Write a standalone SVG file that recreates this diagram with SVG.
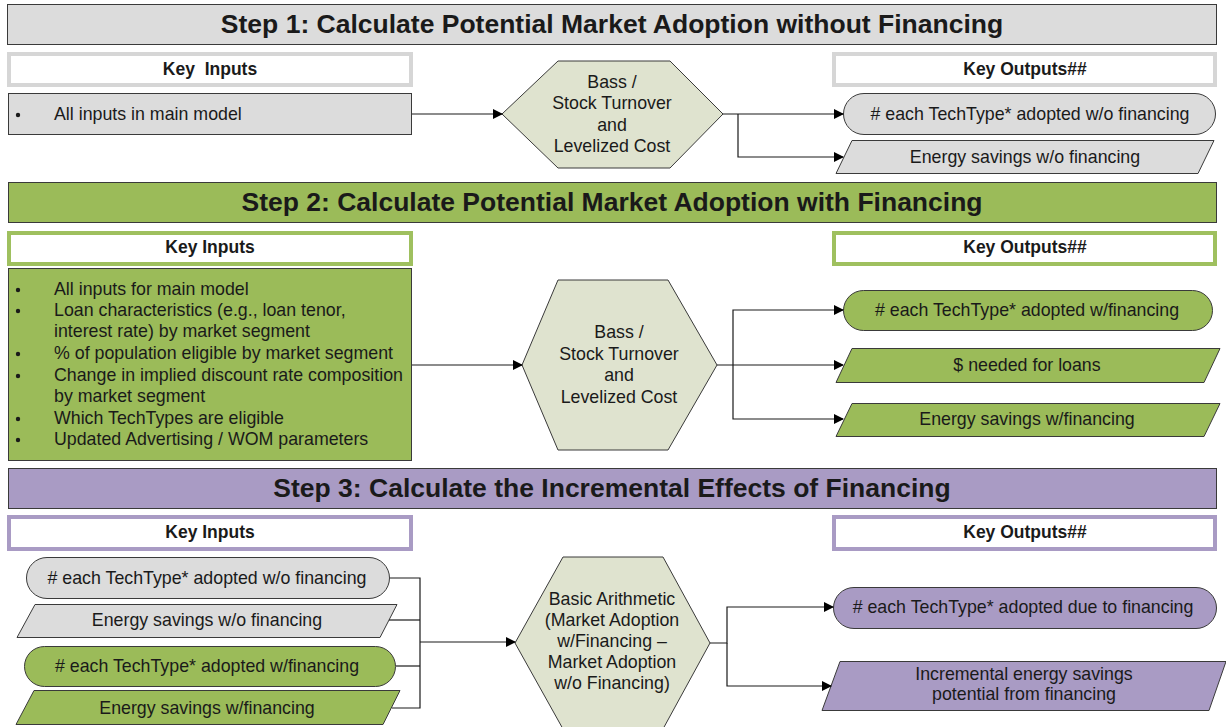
<svg xmlns="http://www.w3.org/2000/svg" width="1226" height="727" viewBox="0 0 1226 727">
<defs>
<marker id="arr" markerWidth="10" markerHeight="10" refX="9" refY="5" orient="auto" markerUnits="userSpaceOnUse">
<path d="M0,0 L10,5 L0,10 Z" fill="#000"/>
</marker>
<style>
text{font-family:"Liberation Sans",Arial,sans-serif;fill:#1a1a1a}
.hdr{font-size:26.5px;font-weight:bold;text-anchor:middle}
.key{font-size:17.5px;font-weight:bold;text-anchor:middle}
.t{font-size:17.8px}
.c{font-size:17.8px;text-anchor:middle}
.gray{fill:#dcdcdc}
.green{fill:#9bbb59}
.purple{fill:#a99bc4}
.box{stroke:#3a3a3a;stroke-width:1}
.hex{fill:#dfe3cf;stroke:#3a3a3a;stroke-width:1}
.keybox{fill:#fff;stroke-width:4}
.conn{fill:none;stroke:#1a1a1a;stroke-width:1.2}
</style>
</defs>
<rect width="1226" height="727" fill="#fff"/>

<!-- Step 1 -->
<g id="step1-header"><rect class="gray box" x="7.5" y="4.5" width="1209" height="40"/><text class="hdr" x="612" y="33">Step 1: Calculate Potential Market Adoption without Financing</text></g>
<g id="step1-keyinputs"><rect class="keybox" x="9" y="54" width="402" height="31" stroke="#d6d6d6"/><text class="key" x="210" y="75">Key&#160; Inputs</text></g>
<g id="step1-inputs"><rect class="gray box" x="8.5" y="93.5" width="403" height="41"/><circle cx="18" cy="115" r="2.2" fill="#1a1a1a"/><text class="t" x="54" y="120">All inputs in main model</text></g>
<g id="step1-hex"><polygon class="hex" points="502,114 558,61 670,61 723,114 670,168 558,168"/>
<text class="c" x="612" y="88">Bass /</text><text class="c" x="612" y="109">Stock Turnover</text><text class="c" x="612" y="131">and</text><text class="c" x="612" y="152">Levelized Cost</text></g>
<g id="step1-keyoutputs"><rect class="keybox" x="834" y="54" width="381" height="31" stroke="#d6d6d6"/><text class="key" x="1025" y="75">Key Outputs##</text></g>
<g id="step1-out1"><rect class="gray box" x="843.5" y="93.5" width="372" height="41" rx="20.5"/><text class="c" x="1030" y="120"># each TechType* adopted w/o financing</text></g>
<g id="step1-out2"><polygon class="gray box" points="852,140.5 1214,140.5 1198,173.5 836,173.5"/><text class="c" x="1025" y="163">Energy savings w/o financing</text></g>

<!-- Step 2 -->
<g id="step2-header"><rect class="green box" x="8.5" y="182.5" width="1208" height="40"/><text class="hdr" x="612" y="211">Step 2: Calculate Potential Market Adoption with Financing</text></g>
<g id="step2-keyinputs"><rect class="keybox" x="9" y="233" width="402" height="31" stroke="#9fc05f"/><text class="key" x="210" y="253">Key Inputs</text></g>
<g id="step2-inputs"><rect class="green box" x="8.5" y="268.5" width="403" height="192"/>
<g fill="#1a1a1a"><circle cx="18" cy="290" r="2.2"/><circle cx="18" cy="311" r="2.2"/><circle cx="18" cy="354" r="2.2"/><circle cx="18" cy="376" r="2.2"/><circle cx="18" cy="419" r="2.2"/><circle cx="18" cy="440" r="2.2"/></g>
<text class="t" x="54" y="295">All inputs for main model</text>
<text class="t" x="54" y="316">Loan characteristics (e.g., loan tenor,</text>
<text class="t" x="54" y="337">interest rate) by market segment</text>
<text class="t" x="54" y="359">% of population eligible by market segment</text>
<text class="t" x="54" y="381">Change in implied discount rate composition</text>
<text class="t" x="54" y="402">by market segment</text>
<text class="t" x="54" y="424">Which TechTypes are eligible</text>
<text class="t" x="54" y="445">Updated Advertising / WOM parameters</text></g>
<g id="step2-hex"><polygon class="hex" points="522,365 558,280 668,280 717,365 668,450 558,450"/>
<text class="c" x="619" y="338">Bass /</text><text class="c" x="619" y="360">Stock Turnover</text><text class="c" x="619" y="381">and</text><text class="c" x="619" y="403">Levelized Cost</text></g>
<g id="step2-keyoutputs"><rect class="keybox" x="834" y="233" width="381" height="31" stroke="#9fc05f"/><text class="key" x="1025" y="253">Key Outputs##</text></g>
<g id="step2-out1"><rect class="green box" x="843.5" y="290.5" width="369" height="40" rx="20"/><text class="c" x="1027" y="316"># each TechType* adopted w/financing</text></g>
<g id="step2-out2"><polygon class="green box" points="852,348.5 1220,348.5 1204,382.5 836,382.5"/><text class="c" x="1027" y="371">$ needed for loans</text></g>
<g id="step2-out3"><polygon class="green box" points="852,403.5 1220,403.5 1204,436.5 836,436.5"/><text class="c" x="1027" y="425">Energy savings w/financing</text></g>

<!-- Step 3 -->
<g id="step3-header"><rect class="purple box" x="8.5" y="468.5" width="1208" height="40"/><text class="hdr" x="612" y="497">Step 3: Calculate the Incremental Effects of Financing</text></g>
<g id="step3-keyinputs"><rect class="keybox" x="9" y="517" width="402" height="32" stroke="#a99bc4"/><text class="key" x="210" y="538">Key Inputs</text></g>
<g id="step3-keyoutputs"><rect class="keybox" x="834" y="517" width="381" height="32" stroke="#a99bc4"/><text class="key" x="1025" y="538">Key Outputs##</text></g>
<g id="step3-in1"><rect class="gray box" x="26.5" y="557.5" width="363" height="41" rx="20.5"/><text class="c" x="207" y="584"># each TechType* adopted w/o financing</text></g>
<g id="step3-in2"><polygon class="gray box" points="35,604.5 397,604.5 380,637.5 17,637.5"/><text class="c" x="207" y="626">Energy savings w/o financing</text></g>
<g id="step3-in3"><rect class="green box" x="24.5" y="646.5" width="371" height="40" rx="20"/><text class="c" x="207" y="672"># each TechType* adopted w/financing</text></g>
<g id="step3-in4"><polygon class="green box" points="34,690.5 400,690.5 383,724.5 16,724.5"/><text class="c" x="207" y="714">Energy savings w/financing</text></g>
<g id="step3-hex"><polygon class="hex" points="515,643 563,557 663,557 710,643 663,729 563,729"/>
<text class="c" x="612" y="605">Basic Arithmetic</text><text class="c" x="612" y="626">(Market Adoption</text><text class="c" x="612" y="647">w/Financing –</text><text class="c" x="612" y="668">Market Adoption</text><text class="c" x="612" y="689">w/o Financing)</text></g>
<g id="step3-out1"><rect class="purple box" x="833.5" y="587.5" width="383" height="41" rx="20.5"/><text class="c" x="1023" y="613"># each TechType* adopted due to financing</text></g>
<g id="step3-out2"><polygon class="purple box" points="840,661.5 1226,661.5 1209,710.5 822,710.5"/><text class="c" x="1024" y="680">Incremental energy savings</text><text class="c" x="1024" y="700">potential from financing</text></g>

<!-- Connectors -->
<g id="connectors">
<path class="conn" d="M412,114 H502" marker-end="url(#arr)"/>
<path class="conn" d="M723,114 H843" marker-end="url(#arr)"/>
<path class="conn" d="M738,114 V157 H843" marker-end="url(#arr)"/>
<path class="conn" d="M412,365 H522" marker-end="url(#arr)"/>
<path class="conn" d="M717,365 H843" marker-end="url(#arr)"/>
<path class="conn" d="M733,365 V310 H843" marker-end="url(#arr)"/>
<path class="conn" d="M733,365 V419 H843" marker-end="url(#arr)"/>
<path class="conn" d="M390,578 H420 V708 H392"/>
<path class="conn" d="M389,620 H420"/>
<path class="conn" d="M396,666 H420"/>
<path class="conn" d="M420,642 H515" marker-end="url(#arr)"/>
<path class="conn" d="M710,643 H727 V607 H833" marker-end="url(#arr)"/>
<path class="conn" d="M727,643 V686 H831" marker-end="url(#arr)"/>
</g>
</svg>
